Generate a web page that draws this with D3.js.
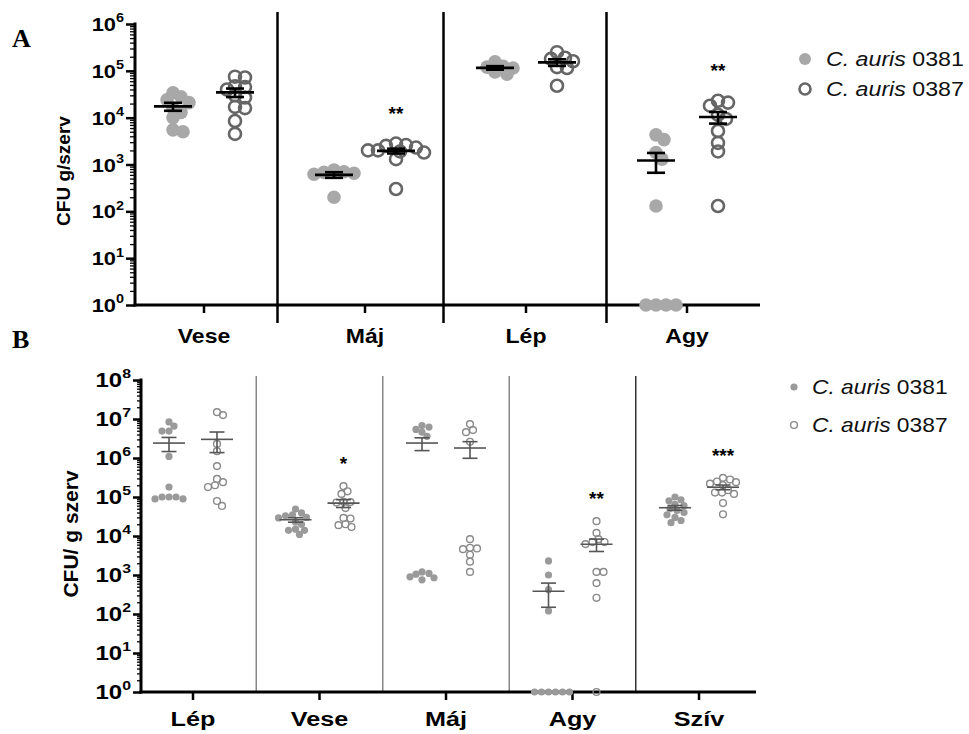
<!DOCTYPE html>
<html>
<head>
<meta charset="utf-8">
<script src="https://cdn.jsdelivr.net/npm/d3@7"></script>
<style>
  html, body { margin: 0; padding: 0; background: #fff; }
  svg { display: block; font-family: "Liberation Sans", Arial, Helvetica, sans-serif; }
</style>
</head>
<body>
<svg id="chart" width="969" height="734"></svg>
<script>
// ---------- DATA ----------
const seriesNames = ["C. auris 0381", "C. auris 0387"];

// Panel A
const aCats = ["Vese", "Máj", "Lép", "Agy"];
const a0381 = [
  [34000, 28000, 24000, 21000, 16000, 13000, 10000, 5500, 5000],
  [760, 700, 680, 650, 620, 200],
  [155000, 125000, 120000, 115000, 95000, 85000],
  [4300, 3400, 1800, 1300, 130, 1, 1, 1, 1]
];
const a0387 = [
  [75000, 72000, 47000, 45000, 40000, 30000, 27000, 17000, 16000, 8500, 4500],
  [2800, 2600, 2500, 2300, 2000, 2000, 1900, 1800, 1300, 300],
  [250000, 190000, 180000, 160000, 120000, 115000, 48000],
  [23000, 21000, 18000, 11500, 9400, 5200, 2900, 1900, 130]
];
const aTicks = [1, 10, 100, 1000, 10000, 100000, 1000000];
const aSigCats = ["Máj", "Agy"];
const aSigLabels = ["**", "**"];

// Panel B
const bCats = ["Lép", "Vese", "Máj", "Agy", "Szív"];
const b0381 = [
  [8400000, 6600000, 4900000, 4900000, 1100000, 180000, 100000, 100000, 100000, 89000, 89000],
  [49000, 39000, 35000, 33000, 30000, 29000, 23000, 20000, 15000, 14000, 14000, 11000],
  [6800000, 6200000, 5400000, 4600000, 3600000, 1200, 1100, 1050, 900, 850, 750],
  [2300, 1000, 420, 120, 1, 1, 1, 1, 1, 1],
  [100000, 85000, 80000, 65000, 60000, 50000, 45000, 40000, 35000, 30000, 25000, 22000]
];
const b0387 = [
  [15000000, 12600000, 2300000, 1500000, 620000, 290000, 240000, 200000, 180000, 79000, 59000],
  [190000, 140000, 120000, 75000, 74000, 72000, 52000, 29000, 28000, 20000, 19000, 17000],
  [7400000, 5200000, 4600000, 2600000, 8300, 5000, 4800, 4600, 3300, 2200, 1200],
  [24000, 12000, 8300, 7000, 7000, 6200, 1200, 1200, 620, 260, 1],
  [310000, 280000, 250000, 240000, 220000, 200000, 150000, 130000, 130000, 120000, 70000, 36000]
];
const bTicks = [1, 10, 100, 1000, 10000, 100000, 1000000, 10000000, 100000000];
const bSigCats = ["Vese", "Agy", "Szív"];
const bSigLabels = ["*", "**", "***"];

// ---------- DRAW ----------
const svg = d3.select("#chart");

function swarm(values, cx, y, step, minDist) {
  const placed = [];
  const sorted = values.map((v, i) => ({v, i})).sort((a, b) => b.v - a.v);
  sorted.forEach(d => {
    const py = y(d.v);
    for (let k = 0; k < 200; k++) {
      const off = k === 0 ? 0 : (k % 2 ? 1 : -1) * Math.ceil(k / 2);
      const px = cx + off * step;
      const ok = placed.every(p => Math.hypot(p.x - px, p.y - py) >= minDist);
      if (ok) { placed.push({x: px, y: py, v: d.v}); break; }
    }
  });
  return placed;
}

function drawPanel(cfg) {
  const g = svg.append("g");
  const y = d3.scaleLog().domain([1, cfg.ticks[cfg.ticks.length - 1]]).range([cfg.y0, cfg.y1]);
  const x = d3.scalePoint().domain(cfg.cats).range(cfg.xRange);

  // separators
  cfg.cats.slice(1).forEach((c, i) => {
    const sx = (x(cfg.cats[i]) + x(c)) / 2 + (cfg.sepShift[i] || 0);
    g.append("line")
      .attr("x1", sx).attr("x2", sx)
      .attr("y1", cfg.sepTop).attr("y2", cfg.sepBottom)
      .attr("stroke", cfg.sepColors[i]).attr("stroke-width", cfg.sepWidth);
  });

  // minor ticks
  const minor = [];
  for (let e = 0; e < cfg.ticks.length - 1; e++)
    for (let j = 2; j <= 9; j++) minor.push(j * Math.pow(10, e));
  g.append("g").attr("transform", `translate(${cfg.axisX},0)`)
    .call(d3.axisLeft(y).tickValues(minor).tickSize(cfg.minorLen).tickFormat(""))
    .call(s => s.select(".domain").remove())
    .call(s => s.selectAll("line").attr("stroke", "#000").attr("stroke-width", 1.3));
  // major ticks
  g.append("g").attr("transform", `translate(${cfg.axisX},0)`)
    .call(d3.axisLeft(y).tickValues(cfg.ticks).tickSize(cfg.majorLen).tickFormat(""))
    .call(s => s.select(".domain").remove())
    .call(s => s.selectAll("line").attr("stroke", "#000").attr("stroke-width", 2.5));
  // y axis line
  g.append("line").attr("x1", cfg.axisX).attr("x2", cfg.axisX)
    .attr("y1", cfg.y1 - 1.5).attr("y2", cfg.y0 + 1.5)
    .attr("stroke", "#000").attr("stroke-width", 3);
  // tick labels
  cfg.ticks.forEach(t => {
    const e = Math.round(Math.log10(t));
    const tx = g.append("text")
      .attr("transform", `translate(${cfg.axisX - cfg.majorLen - 2},${y(t) + cfg.labelDy}) scale(${cfg.sx},1)`)
      .attr("text-anchor", "end").attr("font-weight", "bold").attr("font-size", cfg.tickFont);
    tx.append("tspan").text("10");
    tx.append("tspan").attr("dy", -cfg.tickFont * 0.45).attr("font-size", cfg.tickFont * 0.66).text(e);
  });
  // y title
  g.append("text")
    .attr("transform", `translate(${cfg.titleX},${cfg.titleY}) rotate(-90)`)
    .attr("text-anchor", "middle").attr("font-weight", "bold").attr("font-size", cfg.titleFont)
    .text(cfg.title);

  // x axis
  g.append("line").attr("x1", cfg.axisX - 1.5).attr("x2", cfg.xEnd)
    .attr("y1", cfg.y0).attr("y2", cfg.y0).attr("stroke", "#000").attr("stroke-width", 3);
  cfg.cats.forEach(c => {
    g.append("line").attr("x1", x(c)).attr("x2", x(c))
      .attr("y1", cfg.y0).attr("y2", cfg.y0 + 8).attr("stroke", "#000").attr("stroke-width", 2.5);
    g.append("text")
      .attr("transform", `translate(${x(c)},${cfg.xLabelY}) scale(${cfg.sx},1)`)
      .attr("text-anchor", "middle").attr("font-weight", "bold").attr("font-size", cfg.xFont)
      .text(c);
  });

  // data
  const series = [cfg.s1, cfg.s2];
  const maxByCat = {};
  series.forEach((ser, si) => {
    ser.forEach((vals, ci) => {
      const cat = cfg.cats[ci];
      const cx = x(cat) + (si === 0 ? -cfg.offset : cfg.offset);
      const pts = swarm(vals, cx, y, cfg.swStep, cfg.swDist);
      const pg = g.append("g");
      pg.selectAll("circle").data(pts).join("circle")
        .attr("cx", d => d.x).attr("cy", d => d.y)
        .attr("r", si === 0 ? cfg.rFill : cfg.rOpen)
        .attr("fill", si === 0 ? cfg.fillColor : "none")
        .attr("stroke", si === 0 ? "none" : cfg.openColor)
        .attr("stroke-width", si === 0 ? 0 : cfg.openWidth);
      // mean +- SEM
      const m = d3.mean(vals);
      const sem = d3.deviation(vals) / Math.sqrt(vals.length);
      const lo = Math.max(1, m - sem), hi = m + sem;
      const eg = g.append("g").attr("stroke", cfg.barColor).attr("stroke-width", cfg.barWidth);
      eg.append("line").attr("x1", cx - cfg.meanW / 2).attr("x2", cx + cfg.meanW / 2)
        .attr("y1", y(m)).attr("y2", y(m));
      eg.append("line").attr("x1", cx).attr("x2", cx).attr("y1", y(hi)).attr("y2", y(lo));
      [hi, lo].forEach(v => eg.append("line")
        .attr("x1", cx - cfg.capW / 2).attr("x2", cx + cfg.capW / 2)
        .attr("y1", y(v)).attr("y2", y(v)));
      if (si === 1) maxByCat[cat] = {x: cx, max: d3.max(vals)};
    });
  });

  // significance
  cfg.sigCats.forEach((c, i) => {
    const info = maxByCat[c];
    g.append("text").attr("x", info.x).attr("y", y(info.max) - cfg.sigGap)
      .attr("text-anchor", "middle").attr("font-size", cfg.sigFont).attr("font-weight", "bold")
      .text(cfg.sigLabels[i]);
  });

  // legend
  seriesNames.forEach((name, i) => {
    const ly = cfg.legY[i];
    g.append("circle").attr("cx", cfg.legX).attr("cy", ly)
      .attr("r", i === 0 ? cfg.legRFill : cfg.legROpen)
      .attr("fill", i === 0 ? cfg.fillColor : "none")
      .attr("stroke", i === 0 ? "none" : cfg.openColor)
      .attr("stroke-width", i === 0 ? 0 : cfg.openWidth);
    const parts = name.split(" ");
    const t = g.append("text")
      .attr("transform", `translate(${cfg.legTextX},${ly + cfg.legFont * 0.36}) scale(${cfg.legSx},1)`)
      .attr("font-size", cfg.legFont).attr("fill", "#111");
    t.append("tspan").attr("font-style", "italic").text(parts[0] + " " + parts[1]);
    t.append("tspan").text(" " + parts[2]);
  });
}

drawPanel({
  cats: aCats, s1: a0381, s2: a0387, ticks: aTicks,
  y0: 305, y1: 24, xRange: [204, 687], axisX: 135, xEnd: 760,
  sepTop: 12, sepBottom: 323, sepColors: ["#000", "#000", "#000"], sepWidth: 2.5, sepShift: [-7, -2, 0],
  minorLen: 5, majorLen: 9, tickFont: 19, labelDy: 7, sx: 1.15,
  title: "CFU g/szerv", titleX: 70, titleY: 171, titleFont: 19,
  xLabelY: 343, xFont: 20,
  offset: 31, rFill: 6.8, rOpen: 6, fillColor: "#a8a8a8", openColor: "#666", openWidth: 2.6,
  swStep: 2, swDist: 8.5,
  barColor: "#000", barWidth: 2.6, meanW: 38, capW: 18,
  sigCats: aSigCats, sigLabels: aSigLabels, sigGap: 24, sigFont: 19,
  legX: 805, legY: [59, 89], legTextX: 826, legFont: 20, legSx: 1.16, legRFill: 6, legROpen: 5.5
});

drawPanel({
  cats: bCats, s1: b0381, s2: b0387, ticks: bTicks,
  y0: 692, y1: 380, xRange: [193, 699], axisX: 141, xEnd: 756,
  sepTop: 376, sepBottom: 692, sepColors: ["#888", "#888", "#888", "#333"], sepWidth: 1.5, sepShift: [0, 0, 0, 0],
  minorLen: 4, majorLen: 8, tickFont: 20, labelDy: 7, sx: 1.2,
  title: "CFU/ g szerv", titleX: 78, titleY: 534, titleFont: 21,
  xLabelY: 726, xFont: 21,
  offset: 24, rFill: 3.6, rOpen: 3.4, fillColor: "#9a9a9a", openColor: "#8a8a8a", openWidth: 1.4,
  swStep: 1, swDist: 6.4,
  barColor: "#555", barWidth: 1.6, meanW: 32, capW: 15,
  sigCats: bSigCats, sigLabels: bSigLabels, sigGap: 16, sigFont: 19,
  legX: 794, legY: [387, 425], legTextX: 812, legFont: 20, legSx: 1.14, legRFill: 3.6, legROpen: 3.4
});

// panel letters
svg.append("text").attr("x", 12).attr("y", 47).attr("font-family", "'Liberation Serif', 'Times New Roman', serif")
  .attr("font-weight", "bold").attr("font-size", 26).text("A");
svg.append("text").attr("x", 12).attr("y", 348).attr("font-family", "'Liberation Serif', 'Times New Roman', serif")
  .attr("font-weight", "bold").attr("font-size", 26).text("B");
</script>
</body>
</html>
